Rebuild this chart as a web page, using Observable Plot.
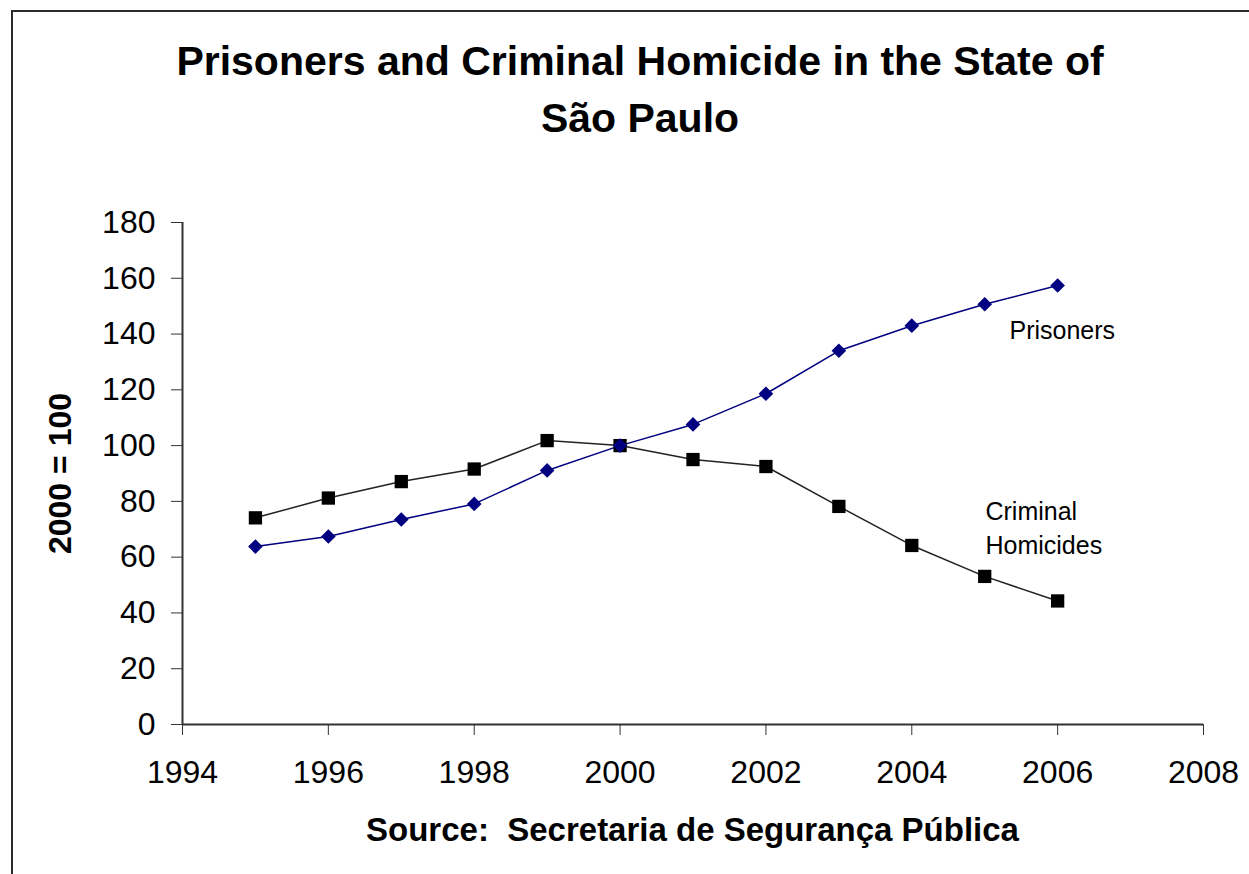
<!DOCTYPE html>
<html>
<head>
<meta charset="utf-8">
<script src="https://cdn.jsdelivr.net/npm/d3@7"></script>
<script src="https://cdn.jsdelivr.net/npm/@observablehq/plot@0.6"></script>
<style>
  html, body { margin: 0; padding: 0; width: 1249px; height: 874px; overflow: hidden; background: #fff; }
  body { position: relative; font-family: "Liberation Sans", Arial, Helvetica, sans-serif; color: #000; }
  .frame { position: absolute; left: 11px; top: 10px; right: -20px; bottom: -20px;
           border-top: 2px solid #2b2b2b; border-left: 2px solid #2b2b2b; pointer-events: none; }
  .title { box-sizing: border-box; width: 1249px; padding: 33px 0 0 31px; margin: 0;
           text-align: center; font-weight: bold; font-size: 41px; line-height: 57px; height: 148px; }
  .caption { box-sizing: border-box; width: 1249px; padding-left: 136px; text-align: center;
             font-weight: bold; font-size: 33px; line-height: 60px; }
  #chart svg { display: block; }
</style>
</head>
<body>
<div class="frame"></div>
<div class="title">Prisoners and Criminal Homicide in the State of<br>São Paulo</div>
<div id="chart"></div>
<div class="caption">Source:&nbsp; Secretaria de Segurança Pública</div>
<script>
// Index values, 2000 = 100
const years = [1995, 1996, 1997, 1998, 1999, 2000, 2001, 2002, 2003, 2004, 2005, 2006];
const homicides = [74.1, 81.2, 87.1, 91.6, 101.8, 100, 95.0, 92.5, 78.2, 64.2, 53.1, 44.3];
const prisoners = [63.8, 67.4, 73.5, 79.1, 91.1, 100, 107.6, 118.6, 134.0, 143.0, 150.7, 157.4];

const xTicks = [1994, 1996, 1998, 2000, 2002, 2004, 2006, 2008];
const yTicks = [0, 20, 40, 60, 80, 100, 120, 140, 160, 180];

// Direct labels placed next to the end of each series
const seriesNames = ["Prisoners", "Criminal\nHomicides"];
const labelYears = [2005.34, 2005.01];
const labelValues = [142.0, 71.0];
const yLabel = "2000 = 100";

const rows = years.map((year, i) => ({year, homicides: homicides[i], prisoners: prisoners[i]}));
const labels = seriesNames.map((name, i) => ({name, x: labelYears[i], y: labelValues[i]}));

const chart = Plot.plot({
  width: 1249,
  height: 652,
  marginLeft: 182,
  marginRight: 46,
  marginTop: 74,
  marginBottom: 76,
  x: {domain: [1994, 2008]},
  y: {domain: [0, 180]},
  style: {fontFamily: '"Liberation Sans", Arial, Helvetica, sans-serif', color: "#000", background: "#fff", overflow: "visible"},
  marks: [
    Plot.axisX({ticks: xTicks, tickFormat: d => String(d), tickSize: 11, tickPadding: 25, fontSize: 32, label: null, stroke: "#333"}),
    Plot.axisY({ticks: yTicks, tickSize: 11, tickPadding: 16, fontSize: 32, label: null, stroke: "#333"}),
    Plot.ruleX([1994], {stroke: "#333", strokeWidth: 2}),
    Plot.ruleY([0], {stroke: "#333", strokeWidth: 2}),
    Plot.line(rows, {x: "year", y: "homicides", stroke: "#222", strokeWidth: 1.5}),
    Plot.line(rows, {x: "year", y: "prisoners", stroke: "#000080", strokeWidth: 1.5}),
    Plot.dot(rows, {x: "year", y: "homicides", symbol: "square", r: 7.5, fill: "#000", stroke: "none"}),
    Plot.dot(rows, {x: "year", y: "prisoners", symbol: "diamond2", r: 6.6, fill: "#000080", stroke: "none"}),
    Plot.text(labels, {x: "x", y: "y", text: "name", textAnchor: "start", fontSize: 25, lineHeight: 1.36, fill: "#000"}),
    Plot.text([yLabel], {frameAnchor: "left", dx: -122, rotate: -90, textAnchor: "middle", fontWeight: "bold", fontSize: 32, fill: "#000"})
  ]
});

document.getElementById("chart").appendChild(chart);
</script>
</body>
</html>
